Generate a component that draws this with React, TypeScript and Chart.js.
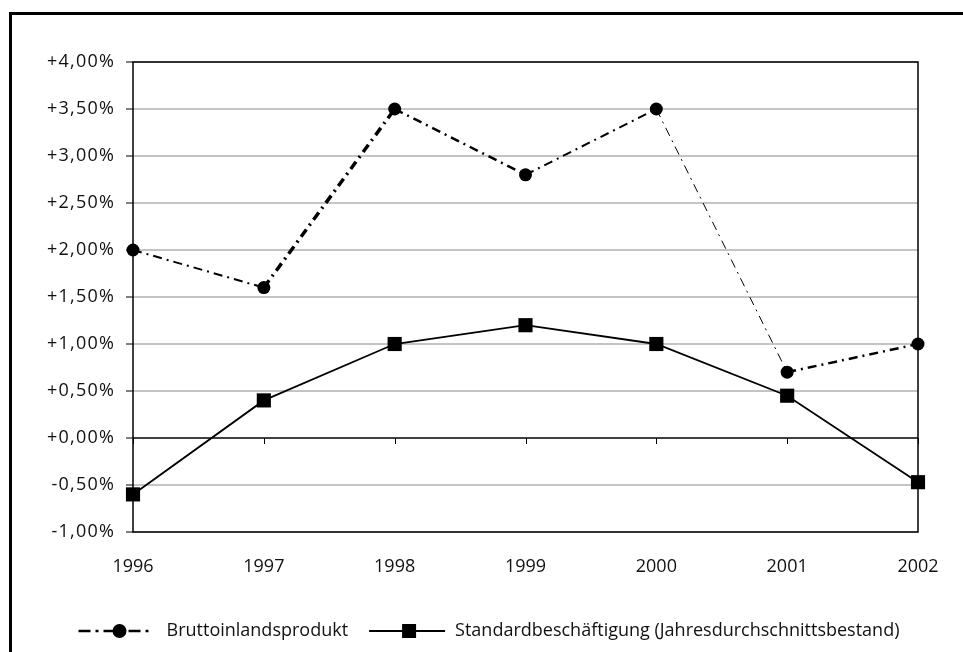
import React, { useEffect, useRef } from 'react';
import { Chart, registerables } from 'chart.js';

Chart.register(...registerables);

const years = ['1996', '1997', '1998', '1999', '2000', '2001', '2002'];
const bip = [2.0, 1.6, 3.5, 2.8, 3.5, 0.7, 1.0];
const beschaeftigung = [-0.6, 0.4, 1.0, 1.2, 1.0, 0.45, -0.47];
const seriesNames = ['Bruttoinlandsprodukt', 'Standardbeschäftigung (Jahresdurchschnittsbestand)'];
const yMin = -1;
const yMax = 4;
const yStep = 0.5;
const bipSegmentWidths = [2, 3.5, 2.5, 2, 1, 2.5];

const FONT = '"Open Sans", sans-serif';

const fmt = (v: number) => (v >= 0 ? '+' : '') + v.toFixed(2).replace('.', ',') + '%';

const decor = {
  id: 'decor',
  beforeDatasetsDraw(chart: any) {
    const { ctx, chartArea: a, scales } = chart;
    const y0 = scales.y.getPixelForValue(0);
    ctx.save();
    ctx.strokeStyle = '#000';
    ctx.lineWidth = 1.5;
    ctx.strokeRect(a.left, a.top, a.right - a.left, a.bottom - a.top);
    ctx.beginPath();
    ctx.moveTo(a.left, y0);
    ctx.lineTo(a.right, y0);
    ctx.stroke();
    ctx.beginPath();
    ctx.lineWidth = 1;
    for (let i = 0; i < years.length; i++) {
      const x = Math.round(scales.x.getPixelForValue(i)) + 0.5;
      ctx.moveTo(x, y0);
      ctx.lineTo(x, y0 + 6);
    }
    ctx.stroke();
    ctx.restore();
  },
  afterDraw(chart: any) {
    const { ctx } = chart;
    ctx.save();
    ctx.fillStyle = '#000';
    ctx.fillRect(9, 12, 3, 640);
    ctx.fillRect(9, 12, 954, 3);

    ctx.font = `18px ${FONT}`;
    (ctx as any).letterSpacing = '0px';
    ctx.textBaseline = 'middle';
    ctx.textAlign = 'left';
    ctx.fillStyle = '#111';
    const w1 = ctx.measureText(seriesNames[0]).width;
    const w2 = ctx.measureText(seriesNames[1]).width;
    const s1 = 74, g1 = 14, g2 = 21, s2 = 76, g3 = 10;
    const total = s1 + g1 + w1 + g2 + s2 + g3 + w2;
    let x = 489 - total / 2;
    const y = 631;

    ctx.strokeStyle = '#000';
    ctx.fillStyle = '#000';
    ctx.lineWidth = 2.5;
    ctx.setLineDash([12, 5, 3, 5]);
    ctx.beginPath();
    ctx.moveTo(x, y);
    ctx.lineTo(x + s1, y);
    ctx.stroke();
    ctx.setLineDash([]);
    ctx.beginPath();
    ctx.arc(x + 41, y, 7, 0, Math.PI * 2);
    ctx.fill();
    x += s1 + g1;
    ctx.fillStyle = '#111';
    ctx.fillText(seriesNames[0], x, y);
    x += w1 + g2;

    ctx.fillStyle = '#000';
    ctx.lineWidth = 2;
    ctx.beginPath();
    ctx.moveTo(x, y);
    ctx.lineTo(x + s2, y);
    ctx.stroke();
    ctx.fillRect(x + 40 - 7, y - 7, 14, 14);
    x += s2 + g3;
    ctx.fillStyle = '#111';
    ctx.fillText(seriesNames[1], x, y);
    ctx.restore();
  },
};

export default function App() {
  const ref = useRef<HTMLCanvasElement | null>(null);

  useEffect(() => {
    if (!ref.current) return;
    const chart = new Chart(ref.current, {
      type: 'line',
      data: {
        labels: years,
        datasets: [
          {
            label: seriesNames[0],
            data: bip,
            borderColor: '#000',
            backgroundColor: '#000',
            borderWidth: 2,
            borderDash: [9, 5, 2, 5],
            pointStyle: 'circle',
            pointRadius: 6.5,
            pointBorderWidth: 0,
            pointBackgroundColor: '#000',
            tension: 0,
            clip: false as any,
            segment: {
              borderWidth: (c: any) => bipSegmentWidths[c.p0DataIndex],
            },
          },
          {
            label: seriesNames[1],
            data: beschaeftigung,
            borderColor: '#000',
            backgroundColor: '#000',
            borderWidth: 1.8,
            pointStyle: 'rect',
            pointRadius: 10,
            pointBorderWidth: 0,
            pointBackgroundColor: '#000',
            tension: 0,
            clip: false as any,
          },
        ],
      },
      options: {
        animation: false,
        responsive: false,
        events: [],
        layout: { padding: { top: 62, right: 45, bottom: 70, left: 0 } },
        plugins: {
          legend: { display: false },
          tooltip: { enabled: false },
        },
        scales: {
          x: {
            type: 'category',
            offset: false,
            grid: { display: false },
            border: { display: false },
            ticks: {
              color: '#111',
              padding: 16,
              maxRotation: 0,
              autoSkip: false,
              font: { family: FONT, size: 18 },
            },
            afterFit: (s: any) => {
              s.height = 50;
            },
          },
          y: {
            min: yMin,
            max: yMax,
            border: { display: false },
            grid: {
              color: (c: any) => (c.tick && c.tick.value === 0 ? 'rgba(0,0,0,0)' : '#c4c4c4'),
              lineWidth: 2,
              tickColor: '#000',
              tickLength: 7,
              tickWidth: 1,
            },
            ticks: {
              stepSize: yStep,
              color: '#111',
              padding: 11,
              font: { family: FONT, size: 18 },
              callback: (v: any) => fmt(Number(v)),
            },
            afterFit: (s: any) => {
              s.width = 133;
              if (!s.__spaced) {
                const orig = s.drawLabels;
                s.drawLabels = function (area: any) {
                  const c = this.ctx;
                  c.save();
                  c.letterSpacing = '1.2px';
                  orig.call(this, area);
                  c.restore();
                };
                s.__spaced = true;
              }
            },
          },
        },
      },
      plugins: [decor],
    });
    return () => chart.destroy();
  }, []);

  return (
    <div style={{ position: 'absolute', left: 0, top: 0, width: 963, height: 652, background: '#fff' }}>
      <canvas ref={ref} width={963} height={652} style={{ display: 'block', width: 963, height: 652 }} />
    </div>
  );
}
